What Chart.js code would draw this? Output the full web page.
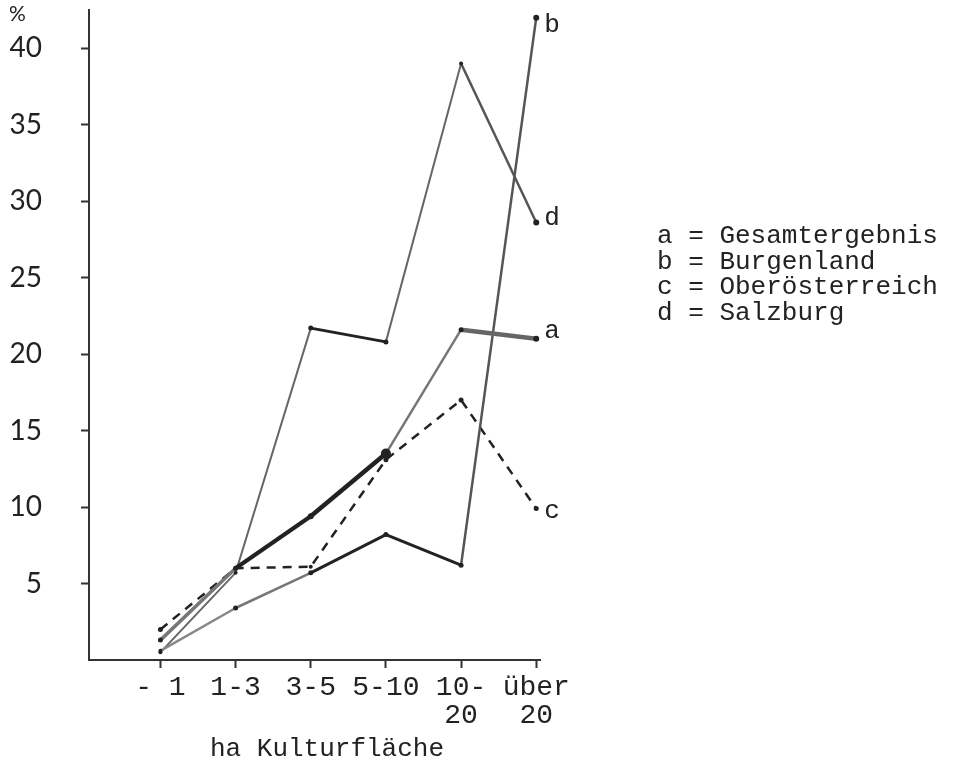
<!DOCTYPE html>
<html>
<head>
<meta charset="utf-8">
<script src="https://cdn.jsdelivr.net/npm/chart.js@4/dist/chart.umd.min.js"></script>
<style>
  html, body { margin: 0; padding: 0; background: #fff; }
  #wrap { width: 959px; height: 762px; position: relative; }
</style>
</head>
<body>
<div id="wrap"><canvas id="c" width="959" height="762"></canvas></div>
<script>
// Farm size classes (ha Kulturfläche)
const categories = [['- 1'], ['1-3'], ['3-5'], ['5-10'], ['10-', '20'], ['über', '20']];

// Shares in percent per size class
const gesamt          = [1.3, 6.0, 9.4, 13.5, 21.6, 21.0];
const burgenland      = [0.6, 3.4, 5.7, 8.2, 6.2, 42.0];
const oberoesterreich = [2.0, 6.0, 6.1, 13.1, 17.0, 9.9];
const salzburg        = [0.5, 5.7, 21.7, 20.8, 39.0, 28.6];

const seriesKeys  = ['a', 'b', 'c', 'd'];
const seriesNames = ['Gesamtergebnis', 'Burgenland', 'Oberösterreich', 'Salzburg'];
const yTicks = [5, 10, 15, 20, 25, 30, 35, 40];
const xTitle = 'ha Kulturfläche';

// Per-segment pen styles (colour, width) for the hand-drawn look
const penA = [['#777', 3.5], ['#222', 4], ['#222', 4.5], ['#777', 2.5], ['#666', 4.5]];
const penB = [['#888', 2.5], ['#777', 2.5], ['#222', 3], ['#222', 3], ['#555', 2.5]];
const penC = [['#222', 2.5], ['#222', 2.5], ['#222', 2.5], ['#222', 2.5], ['#222', 2.5]];
const penD = [['#666', 2], ['#666', 2], ['#222', 3], ['#666', 2], ['#555', 2.5]];
const endLabelDy = [-1, 14, 9, 2];

const MONO = '"Liberation Mono", "DejaVu Sans Mono", monospace';

function points(values) {
  return values.map((v, i) => ({ x: i, y: v }));
}

function dataset(values, pen, dash, radii) {
  return {
    data: points(values),
    borderColor: '#222',
    borderWidth: 2.5,
    borderDash: dash,
    pointRadius: radii,
    pointBackgroundColor: '#222',
    pointBorderWidth: 0,
    tension: 0,
    segment: {
      borderColor: c => pen[c.p0DataIndex][0],
      borderWidth: c => pen[c.p0DataIndex][1]
    }
  };
}

const annotate = {
  id: 'annotate',
  afterDatasetsDraw(chart) {
    const ctx = chart.ctx;
    ctx.save();
    ctx.fillStyle = '#222';
    ctx.font = '26px ' + MONO;
    ctx.textAlign = 'left';
    ctx.textBaseline = 'alphabetic';
    // series letters at the line ends
    chart.data.datasets.forEach((ds, i) => {
      const meta = chart.getDatasetMeta(i);
      const last = meta.data[meta.data.length - 1];
      ctx.fillText(seriesKeys[i], last.x + 8, last.y + endLabelDy[i]);
    });
    // key
    seriesNames.forEach((n, i) => {
      ctx.fillText(seriesKeys[i] + ' = ' + n, 657, 243 + i * 25.6);
    });
    // axis title
    ctx.textAlign = 'center';
    ctx.fillText(xTitle, 327, 756);
    // unit
    ctx.font = '21px Lato, sans-serif';
    ctx.textAlign = 'left';
    ctx.fillText('%', 9, 21);
    ctx.restore();
  }
};

new Chart(document.getElementById('c'), {
  type: 'line',
  data: {
    datasets: [
      dataset(gesamt, penA, [], [2.5, 2.5, 3, 5, 2.5, 3]),
      dataset(burgenland, penB, [], [2, 2.5, 2.5, 2.5, 2.5, 3]),
      dataset(oberoesterreich, penC, [9, 7], [2.5, 2, 2, 2.5, 2.5, 2.5]),
      dataset(salzburg, penD, [], [2, 2, 2.5, 2.5, 2, 3])
    ]
  },
  options: {
    responsive: false,
    devicePixelRatio: 1,
    animation: false,
    events: [],
    layout: { padding: { top: 10, right: 419, bottom: 0, left: 0 } },
    plugins: { legend: { display: false }, tooltip: { enabled: false } },
    scales: {
      x: {
        type: 'linear',
        min: -0.95,
        max: 5.05,
        afterBuildTicks: s => { s.ticks = categories.map((_, i) => ({ value: i })); },
        afterFit: s => { s.height = 102; s.paddingLeft = 0; s.paddingRight = 0; },
        ticks: {
          callback: v => categories[v],
          color: '#222',
          font: { family: MONO, size: 28, lineHeight: 1.0 },
          padding: 6,
          maxRotation: 0,
          autoSkip: false
        },
        grid: { drawOnChartArea: false, tickLength: 8, tickColor: '#333', tickWidth: 2 },
        border: { display: true, color: '#333', width: 2 }
      },
      y: {
        type: 'linear',
        min: 0,
        max: 42.5,
        afterBuildTicks: s => { s.ticks = yTicks.map(v => ({ value: v })); },
        afterFit: s => { s.width = 89; s.paddingTop = 0; s.paddingBottom = 0; },
        ticks: {
          color: '#222',
          font: { family: 'Lato, sans-serif', size: 28 },
          padding: 39
        },
        grid: { drawOnChartArea: false, tickLength: 8, tickColor: '#333', tickWidth: 2 },
        border: { display: true, color: '#333', width: 2 }
      }
    }
  },
  plugins: [annotate]
});
</script>
</body>
</html>
